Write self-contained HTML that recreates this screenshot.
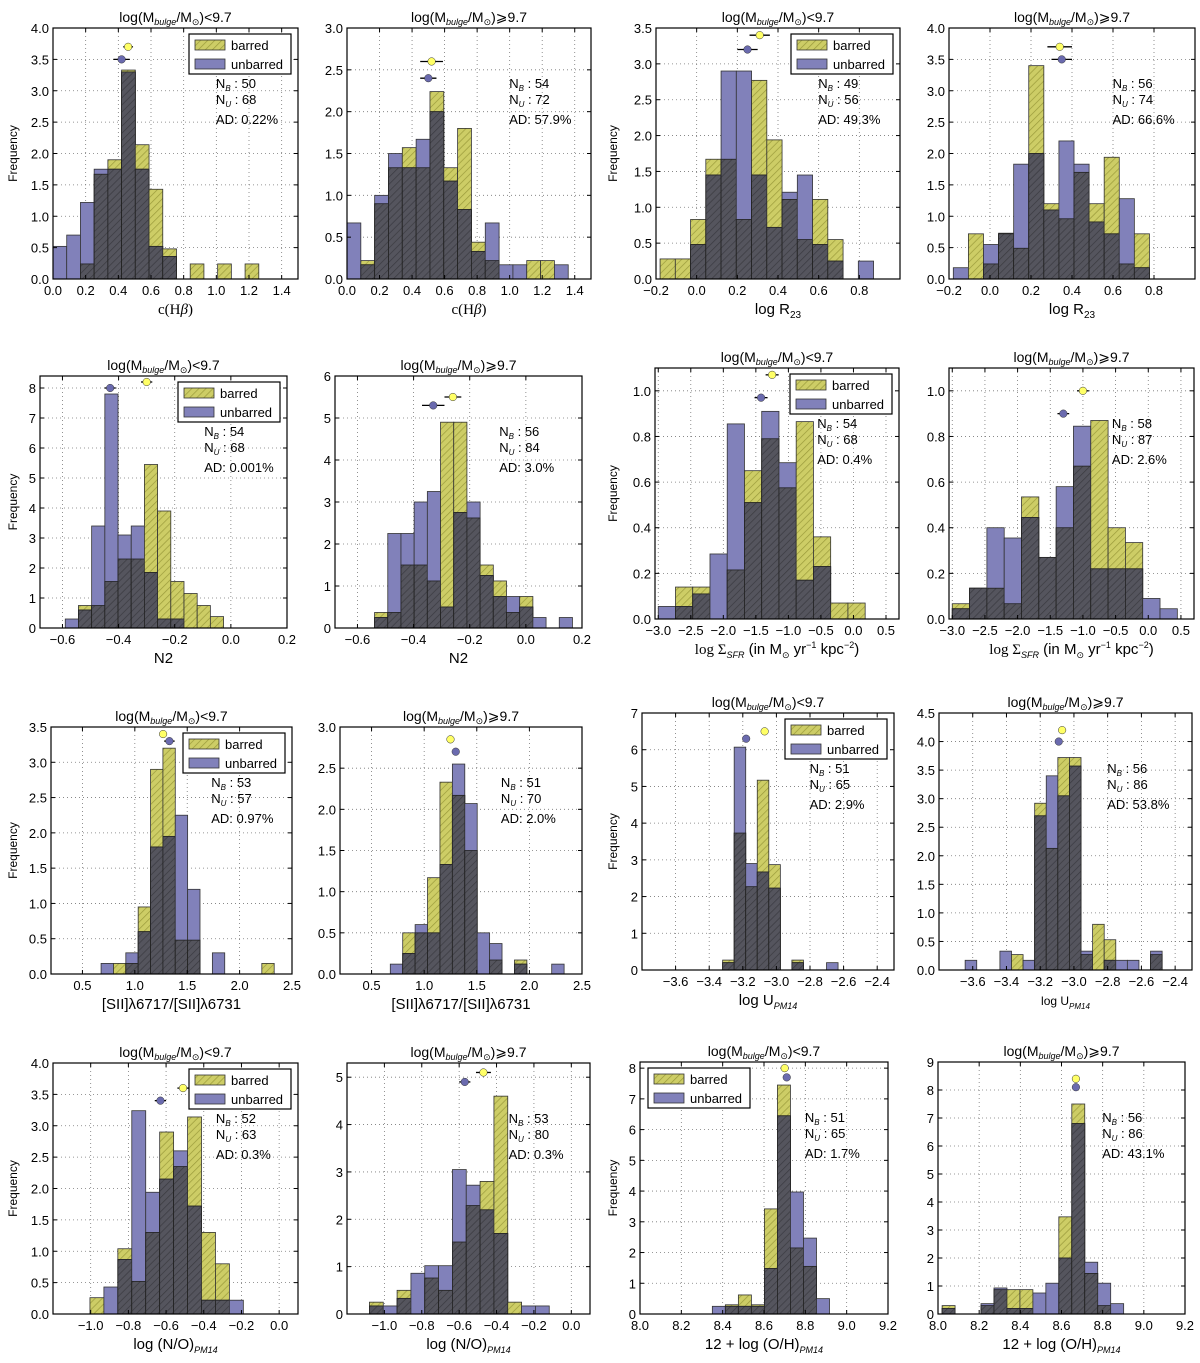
<!DOCTYPE html>
<html><head><meta charset="utf-8"><style>
html,body{margin:0;padding:0;background:#fff;}
svg{display:block;font-family:"Liberation Sans","DejaVu Sans",sans-serif;}
</style></head><body>
<svg id="fig" width="1200" height="1363" viewBox="0 0 1200 1363" xmlns="http://www.w3.org/2000/svg">
<defs>
<pattern id="hatchY" patternUnits="userSpaceOnUse" width="5" height="5" patternTransform="rotate(45)"><rect width="5" height="5" fill="#cdcd66"/><line x1="0" y1="0" x2="0" y2="5" stroke="#9a9a3a" stroke-width="1.4"/></pattern>
<pattern id="hatchD" patternUnits="userSpaceOnUse" width="5" height="5" patternTransform="rotate(45)"><rect width="5" height="5" fill="#55555e"/><line x1="0" y1="0" x2="0" y2="5" stroke="#3a3a40" stroke-width="1.4"/></pattern>
</defs>
</svg>
<script>
// ---- data ----
const barred1=[0,0,0.24,1.67,1.9,3.33,2.14,1.43,0.48,0,0.24,0,0.24,0,0.24];
const unbarred1=[0.52,0.7,1.22,1.75,1.75,3.3,1.75,0.52,0.36,0,0,0,0,0,0];
const barred2=[0,0.22,0.9,1.33,1.57,1.33,2.24,1.33,1.8,0.44,0.22,0,0,0.22,0.22,0];
const unbarred2=[0.67,0.17,1.0,1.5,1.33,1.67,2.0,1.17,0.83,0.33,0.67,0.17,0.17,0,0,0.17];
const barred3=[0.28,0.28,0.83,1.67,1.67,0.83,2.77,1.94,1.11,0.55,1.11,0.55,0,0];
const unbarred3=[0,0,0.48,1.45,2.9,2.9,1.45,0.72,1.21,1.45,0.48,0.25,0,0.25];
const barred4=[0,0.72,0.24,0.72,0.49,3.4,1.2,0.96,1.7,1.2,1.94,0.24,0.72];
const unbarred4=[0.18,0,0.55,0.73,1.83,2.0,1.1,2.2,1.83,0.91,0.72,1.28,0.18];
const barred5=[0,0.75,0.75,1.55,2.3,2.3,5.45,3.9,1.55,1.15,0.75,0.38];
const unbarred5=[0.3,0.6,3.4,7.8,3.1,3.4,1.85,0.3,0.3,0,0,0];
const barred6=[0.37,0.37,1.5,1.5,1.12,4.9,4.9,2.62,1.5,1.12,0.37,0.75,0,0,0];
const unbarred6=[0.25,2.25,2.25,3.0,3.25,0.5,2.75,3.0,1.25,0.75,0.75,0.5,0.25,0,0.25];
const barred7=[0,0.14,0.14,0,0.215,0.65,0.79,0.575,0.865,0.36,0.07,0.07];
const unbarred7=[0.055,0.055,0.11,0.285,0.855,0.51,0.91,0.685,0.17,0.23,0,0];
const barred8=[0.067,0.135,0.135,0.067,0.535,0.27,0.4,0.67,0.87,0.4,0.335,0,0];
const unbarred8=[0.045,0.135,0.4,0.355,0.445,0.27,0.58,0.845,0.22,0.22,0.22,0.09,0.045];
const barred9=[0,0.15,0.15,0.95,2.9,3.2,0.48,0.48,0,0,0,0,0,0.15];
const unbarred9=[0.15,0,0.3,0.6,1.8,1.95,2.25,1.2,0,0.3,0,0,0,0];
const barred10=[0,0.5,0.5,1.17,2.33,2.17,1.5,0,0.17,0,0.17,0,0,0];
const unbarred10=[0.12,0.25,0.6,0.5,1.33,2.55,2.07,0.5,0.37,0,0.12,0,0,0.12];
const barred11=[0.27,3.73,2.27,5.17,2.87,0,0.27,0,0,0];
const unbarred11=[0.2,6.07,2.9,2.67,2.23,0,0.2,0,0,0.2];
const barred12=[0,0,0,0,0.27,0,2.92,2.13,3.72,3.72,0.27,0.8,0.53,0,0,0,0.27];
const unbarred12=[0.17,0,0,0.33,0,0.17,2.7,3.4,3.05,3.57,0.33,0,0.17,0.17,0.17,0,0.33];
const barred13=[0.26,0,1.04,0.52,1.3,2.9,2.35,3.14,1.3,0.8,0];
const unbarred13=[0,0.43,0.87,3.24,1.94,2.15,2.6,1.72,0.22,0.22,0.22];
const barred14=[0.25,0,0.5,0,0.76,0.5,1.52,2.29,2.8,4.6,0.25,0,0];
const unbarred14=[0.17,0.17,0.33,0.86,1.02,1.02,3.05,2.72,2.2,1.7,0,0.17,0.17];
const barred15=[0,0.3,0.62,0.3,3.42,7.45,2.15,1.55,0];
const unbarred15=[0.25,0.25,0.25,0.25,1.48,6.45,3.97,2.47,0.5];
const barred16=[0.3,0,0,0.3,0.87,0.87,0.87,0,0,3.47,7.5,1.45,0.3,0];
const unbarred16=[0.2,0,0,0.37,0.93,0.2,0.2,0.75,1.1,2.0,6.8,1.85,1.1,0.37];
// bin edges (data units)
const binStarts=[0,0,-0.18,-0.179,-0.59,-0.539,-3.0,-3.0,0.678,0.678,-3.32,-3.645,-1.004,-1.08,8.35,8.02];
const binWidths=[0.084,0.085,0.075,0.0736,0.047,0.047,0.265,0.265,0.118,0.118,0.0687,0.0687,0.074,0.074,0.063,0.063];
// means [barred x, err, y, unbarred x, err, y]
const meansB=[[0.46,0.03,3.7],[0.52,0.07,2.6],[0.31,0.05,3.4],[0.34,0.06,3.7],[-0.30,0.02,8.2],[-0.26,0.03,5.5],[-1.25,0.1,1.07],[-1.0,0.09,1.0],[1.27,0.03,3.4],[1.25,0.03,2.85],[-3.07,0.02,6.5],[-3.07,0.015,4.2],[-0.51,0.03,3.6],[-0.47,0.04,5.1],[8.70,0.006,8.0],[8.67,0.006,8.4]];
const meansU=[[0.42,0.05,3.5],[0.50,0.05,2.4],[0.25,0.05,3.2],[0.35,0.05,3.5],[-0.43,0.02,8.0],[-0.33,0.04,5.3],[-1.42,0.1,0.97],[-1.3,0.09,0.9],[1.33,0.05,3.3],[1.30,0.02,2.7],[-3.18,0.01,6.3],[-3.09,0.02,4.0],[-0.63,0.03,3.4],[-0.57,0.03,4.9],[8.71,0.006,7.7],[8.67,0.006,8.1]];
const nBarred=[50,54,49,56,54,56,54,58,53,51,51,56,52,53,51,56];
const nUnbarred=[68,72,56,74,68,84,68,87,57,70,65,86,63,80,65,86];
const adLabels=["0.22%","57.9%","49.3%","66.6%","0.001%","3.0%","0.4%","2.6%","0.97%","2.0%","2.9%","53.8%","0.3%","0.3%","1.7%","43.1%"];
const xTicksCHb=[0,0.2,0.4,0.6,0.8,1.0,1.2,1.4];
const xTicksR23=[-0.2,0,0.2,0.4,0.6,0.8];
const xTicksN2=[-0.6,-0.4,-0.2,0,0.2];
const xTicksSFR=[-3.0,-2.5,-2.0,-1.5,-1.0,-0.5,0,0.5];
const xTicksSII=[0.5,1.0,1.5,2.0,2.5];
const xTicksU=[-3.6,-3.4,-3.2,-3.0,-2.8,-2.6,-2.4];
const xTicksNO=[-1.0,-0.8,-0.6,-0.4,-0.2,0];
const xTicksOH=[8.0,8.2,8.4,8.6,8.8,9.0,9.2];
const yMaxTicks=[4.0,3.0,3.5,4.0,8,6,1.0,1.0,3.5,3.0,7,4.5,4.0,5,8,9];
const yTickSteps=[0.5,0.5,0.5,0.5,1,1,0.2,0.2,0.5,0.5,1,0.5,0.5,1,1,1];

// ---- layout ----
const bars=[barred1,barred2,barred3,barred4,barred5,barred6,barred7,barred8,barred9,barred10,barred11,barred12,barred13,barred14,barred15,barred16];
const unbars=[unbarred1,unbarred2,unbarred3,unbarred4,unbarred5,unbarred6,unbarred7,unbarred8,unbarred9,unbarred10,unbarred11,unbarred12,unbarred13,unbarred14,unbarred15,unbarred16];
const L=[
 {x0:53,x1:298,y0:28,y1:279,xmin:0,xmax:1.5,ymax:4,xt:xTicksCHb,xd:1,yd:1,leg:'r',xl:'chb'},
 {x0:347,x1:591,y0:28,y1:279,xmin:0,xmax:1.5,ymax:3,xt:xTicksCHb,xd:1,yd:1,xl:'chb'},
 {x0:656,x1:900,y0:28,y1:279,xmin:-0.2,xmax:1.0,ymax:3.5,xt:xTicksR23,xd:1,yd:1,leg:'r',xl:'r23'},
 {x0:949,x1:1195,y0:28,y1:279,xmin:-0.2,xmax:1.0,ymax:4,xt:xTicksR23,xd:1,yd:1,xl:'r23'},
 {x0:40,x1:287,y0:376,y1:628,xmin:-0.68,xmax:0.2,ymax:8.4,xt:xTicksN2,xd:1,yd:0,leg:'r',xl:'n2'},
 {x0:335,x1:582,y0:376,y1:628,xmin:-0.68,xmax:0.2,ymax:6,xt:xTicksN2,xd:1,yd:0,xl:'n2'},
 {x0:655,x1:899,y0:368,y1:619,xmin:-3.05,xmax:0.7,ymax:1.1,xt:xTicksSFR,xd:1,yd:1,leg:'r',xl:'sfr'},
 {x0:949,x1:1194,y0:368,y1:619,xmin:-3.05,xmax:0.7,ymax:1.1,xt:xTicksSFR,xd:1,yd:1,xl:'sfr'},
 {x0:51,x1:292,y0:727,y1:974,xmin:0.2,xmax:2.5,ymax:3.5,xt:xTicksSII,xd:1,yd:1,leg:'r',xl:'sii'},
 {x0:340,x1:582,y0:727,y1:974,xmin:0.2,xmax:2.5,ymax:3,xt:xTicksSII,xd:1,yd:1,xl:'sii'},
 {x0:642,x1:894,y0:713,y1:970,xmin:-3.8,xmax:-2.3,ymax:7,xt:xTicksU,xd:1,yd:0,leg:'r',xl:'u'},
 {x0:939,x1:1192,y0:713,y1:970,xmin:-3.8,xmax:-2.3,ymax:4.5,xt:xTicksU,xd:1,yd:1,xl:'u2'},
 {x0:53,x1:298,y0:1063,y1:1314,xmin:-1.2,xmax:0.1,ymax:4,xt:xTicksNO,xd:1,yd:1,leg:'r',xl:'no'},
 {x0:347,x1:590,y0:1063,y1:1314,xmin:-1.2,xmax:0.1,ymax:5.3,xt:xTicksNO,xd:1,yd:0,xl:'no'},
 {x0:640,x1:888,y0:1062,y1:1314,xmin:8.0,xmax:9.2,ymax:8.2,xt:xTicksOH,xd:1,yd:0,leg:'l',xl:'oh'},
 {x0:938,x1:1185,y0:1062,y1:1314,xmin:8.0,xmax:9.2,ymax:9,xt:xTicksOH,xd:1,yd:0,xl:'oh'}
];
const XL={
 chb:'<tspan font-family="Liberation Serif,serif">c(H<tspan font-style="italic">β</tspan>)</tspan>',
 r23:'log R<tspan font-size="10" dy="4">23</tspan>',
 n2:'N2',
 sfr:'<tspan font-family="Liberation Serif,serif">log Σ</tspan><tspan font-size="9" font-style="italic" dy="4">SFR</tspan><tspan dy="-4">  (in M</tspan><tspan font-size="9" dy="4">⊙</tspan><tspan dy="-4"> yr</tspan><tspan font-size="9" dy="-6">−1</tspan><tspan dy="6"> kpc</tspan><tspan font-size="9" dy="-6">−2</tspan><tspan dy="6">)</tspan>',
 sii:'[SII]λ6717/[SII]λ6731',
 u:'log U<tspan font-size="9" font-style="italic" dy="4">PM14</tspan>',
 u2:'<tspan font-size="12">log U</tspan><tspan font-size="8" font-style="italic" dy="4">PM14</tspan>',
 no:'log (N/O)<tspan font-size="9" font-style="italic" dy="4">PM14</tspan>',
 oh:'12 + log (O/H)<tspan font-size="9" font-style="italic" dy="4">PM14</tspan>'
};
const NS='http://www.w3.org/2000/svg';
const svg=document.getElementById('fig');
function mk(tag,attrs,parent){const e=document.createElementNS(NS,tag);for(const k in attrs)e.setAttribute(k,attrs[k]);parent.appendChild(e);return e;}
function fmt(v,d){const s=Math.abs(v).toFixed(d);return (v< -1e-9?'−':'')+s;}

L.forEach((P,pi)=>{
 const g=mk('g',{},svg);
 
 
 const sx=v=>P.x0+(v-P.xmin)/(P.xmax-P.xmin)*(P.x1-P.x0);
 const sy=v=>P.y1-v/P.ymax*(P.y1-P.y0);
 // y ticks
 const yt=[];for(let v=0;v<=yMaxTicks[pi]+1e-9;v+=yTickSteps[pi])yt.push(+v.toFixed(3));
 // grid
 P.xt.forEach(v=>{const X=sx(v);if(X>P.x0+1&&X<P.x1-1){const l=mk('line',{x1:X,x2:X,y1:P.y0,y2:P.y1,stroke:'#777','stroke-width':0.8,'stroke-dasharray':'1,3'},g);}});
 yt.forEach(v=>{const Y=sy(v);if(Y>P.y0+1&&Y<P.y1-1){const l=mk('line',{x1:P.x0,x2:P.x1,y1:Y,y2:Y,stroke:'#777','stroke-width':0.8,'stroke-dasharray':'1,3'},g);}});
 // bars
 const B=bars[pi],U=unbars[pi],w=binWidths[pi],s0=binStarts[pi];
 const n=Math.max(B.length,U.length);
 for(let i=0;i<n;i++){
  const xa=sx(s0+i*w),xb=sx(s0+(i+1)*w);
  const b=B[i]||0,u=U[i]||0;
  if(b>0){const r=mk('rect',{x:xa,y:sy(b),width:xb-xa,height:sy(0)-sy(b),fill:'url(#hatchY)',stroke:'#333','stroke-width':0.8},g);}
  if(u>0){const r=mk('rect',{x:xa,y:sy(u),width:xb-xa,height:sy(0)-sy(u),fill:'#8181ba',stroke:'#333','stroke-width':0.8},g);}
  const m=Math.min(b,u);
  if(m>0){const r=mk('rect',{x:xa,y:sy(m),width:xb-xa,height:sy(0)-sy(m),fill:'url(#hatchD)',stroke:'#222','stroke-width':0.8},g);}
 }
 // frame
 const fr=mk('rect',{x:P.x0,y:P.y0,width:P.x1-P.x0,height:P.y1-P.y0,fill:'none',stroke:'#000','stroke-width':1.2},g);
 
 // ticks and labels
 P.xt.forEach(v=>{const X=sx(v);
  mk('line',{x1:X,x2:X,y1:P.y1,y2:P.y1-4,stroke:'#000'},g);mk('line',{x1:X,x2:X,y1:P.y0,y2:P.y0+4,stroke:'#000'},g);
  const t=mk('text',{x:X,y:P.y1+16,'text-anchor':'middle','font-size':13},g);t.textContent=fmt(v,P.xd);
  });
 yt.forEach(v=>{const Y=sy(v);
  mk('line',{x1:P.x0,x2:P.x0+4,y1:Y,y2:Y,stroke:'#000'},g);mk('line',{x1:P.x1,x2:P.x1-4,y1:Y,y2:Y,stroke:'#000'},g);
  const t=mk('text',{x:P.x0-4,y:Y+5,'text-anchor':'end','font-size':13},g);t.textContent=fmt(v,P.yd);
  });
 // mean markers
 [[meansB[pi],'#ffff66'],[meansU[pi],'#6a6aae']].forEach(([mm,c],k)=>{
  const Y=sy(mm[2]);
  mk('line',{x1:sx(mm[0]-mm[1]),x2:sx(mm[0]+mm[1]),y1:Y,y2:Y,stroke:'#000','stroke-width':1.3},g);
  const ci=mk('circle',{cx:sx(mm[0]),cy:Y,r:3.8,fill:c,stroke:'#333','stroke-width':0.5},g);
  });
 // title
 const tt=mk('text',{x:(P.x0+P.x1)/2,y:P.y0-6,'text-anchor':'middle','font-size':14},g);
 tt.innerHTML='log(M<tspan font-size="9" font-style="italic" dy="3">bulge</tspan><tspan dy="-3">/M</tspan><tspan font-size="9" dy="3">⊙</tspan><tspan dy="-3">)'+(pi%2?'⩾':'&lt;')+'9.7</tspan>';
 
 // x label
 const xl=mk('text',{x:(P.x0+P.x1)/2,y:P.y1+35,'text-anchor':'middle','font-size':15},g);
 xl.innerHTML=XL[P.xl];
 
 // y label
 if(pi%2===0){const yx=(pi%4===0)?17:617;const yy=(P.y0+P.y1)/2;
  const yl=mk('text',{x:yx,y:yy,'text-anchor':'middle','font-size':12,transform:'rotate(-90 '+yx+' '+yy+')'},g);yl.textContent='Frequency';
  }
 // stats
 const stx=P.x0+0.665*(P.x1-P.x0),sty=P.y0+60;
 const st=mk('text',{x:stx,y:sty,'font-size':13},g);
 st.innerHTML='N<tspan font-size="8" font-style="italic" dy="3">B</tspan><tspan dy="-3"> : '+nBarred[pi]+'</tspan>';
 
 const su=mk('text',{x:stx,y:sty+16,'font-size':13},g);
 su.innerHTML='N<tspan font-size="8" font-style="italic" dy="3">U</tspan><tspan dy="-3"> : '+nUnbarred[pi]+'</tspan>';
 
 const ad=mk('text',{x:stx,y:sty+36,'font-size':13},g);ad.textContent='AD: '+adLabels[pi];
 
 // legend
 if(P.leg){
  const lw=102,lh=40;const lx=P.leg==='r'?P.x1-7-lw:P.x0+8;const ly=P.y0+6;
  const lg=mk('g',{},g);
  mk('rect',{x:lx,y:ly,width:lw,height:lh,fill:'#fff',stroke:'#000','stroke-width':1.2},lg);
  const r1=mk('rect',{x:lx+6,y:ly+6,width:30,height:10,fill:'url(#hatchY)',stroke:'#333','stroke-width':0.8},lg);
  
  const t1=mk('text',{x:lx+42,y:ly+16,'font-size':13},lg);t1.textContent='barred';
  
  const r2=mk('rect',{x:lx+6,y:ly+25,width:30,height:10,fill:'#8181ba',stroke:'#333','stroke-width':0.8},lg);
  
  const t2=mk('text',{x:lx+42,y:ly+35,'font-size':13},lg);t2.textContent='unbarred';
  
 }
});
</script>
</body></html>
